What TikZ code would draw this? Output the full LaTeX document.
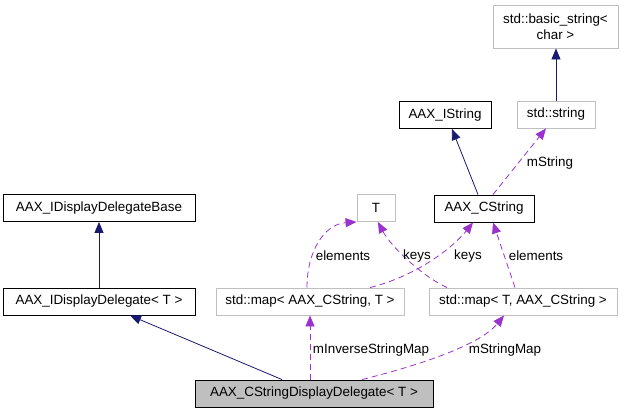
\documentclass[tikz,border=0pt]{standalone}
\usepackage{fontspec}
\setmainfont{Liberation Sans}
\usetikzlibrary{arrows.meta}

\definecolor{navyline}{HTML}{191970}
\definecolor{usecol}{HTML}{9A32CD}
\definecolor{extgray}{HTML}{BFBFBF}

\begin{document}
\begin{tikzpicture}[
  x=1pt,y=-1pt,
  font=\fontsize{13.4}{15.5}\selectfont,
  cls/.style={rectangle,draw=black,line width=0.9pt,align=center,minimum height=27pt,inner sep=2pt},
  ext/.style={cls,draw=extgray},
  focus/.style={cls,fill=extgray},
  inherit/.style={-{Triangle[length=11pt,width=9pt]},draw=navyline,line width=0.8pt},
  usage/.style={-{Triangle[length=11pt,width=9pt]},draw=usecol,line width=0.8pt,dash pattern=on 6pt off 4pt},
  lbl/.style={inner sep=0pt}
]
\useasboundingbox (0,0) rectangle (624,416);

% classes
\node[ext,minimum width=125pt,minimum height=43pt] (basicstr) at (555.5,26.5) {std::basic\_string<\\char >};
\node[ext,minimum width=78pt] (stdstr) at (556,114.5) {std::string};
\node[cls,minimum width=92pt] (istring) at (445,115) {AAX\_IString};
\node[cls,minimum width=100pt] (cstring) at (484,208.5) {AAX\_CString};
\node[ext,minimum width=38pt] (tparam) at (376,208) {T};
\node[cls,minimum width=192pt] (dbase) at (99,208) {AAX\_IDisplayDelegateBase};
\node[cls,minimum width=192pt] (ddel) at (99,301.5) {AAX\_IDisplayDelegate< T >};
\node[ext,minimum width=188pt] (invmap) at (310,301.5) {std::map< AAX\_CString, T >};
\node[ext,minimum width=188pt] (strmap) at (523,301.5) {std::map< T, AAX\_CString >};
\node[focus,minimum width=238pt] (cdd) at (314,393.5) {AAX\_CStringDisplayDelegate< T >};

% inheritance
\draw[inherit] (stdstr) -- (basicstr.south -| stdstr);
\draw[inherit] (cstring.north -| 478,0) -- (istring.south -| 452,0);
\draw[inherit] (ddel) -- (dbase);
\draw[inherit] (cdd.north -| 282,0) -- (ddel.south -| 130,0);

% members
\draw[usage] (cstring.north -| 493,0) -- (stdstr.south -| 546,0);
\node[lbl] (lstr) at (550,163) {mString};
\draw[usage] (invmap.north -| 307,0) .. controls (307,250) and (325,224) .. (tparam.south west);
\node[lbl] (lel1) at (343,256) {elements};
\draw[usage] (strmap.north -| 447,0) .. controls (420,275) and (390,245) .. (tparam.south -| 378,0);
\node[lbl] (lkey1) at (417,256) {keys};
\draw[usage] (invmap.north -| 370,0) .. controls (420,275) and (455,245) .. (cstring.south -| 473,0);
\node[lbl] (lkey2) at (468,256) {keys};
\draw[usage] (strmap.north -| 515,0) -- (cstring.south -| 493,0);
\node[lbl] (lel2) at (536,256) {elements};
\draw[usage] (cdd.north -| 310,0) -- (invmap.south -| 310,0);
\node[lbl] (linv) at (371,350) {mInverseStringMap};
\draw[usage] (cdd.north -| 362,0) .. controls (420,365) and (480,345) .. (strmap.south -| 504,0);
\node[lbl] (lsmap) at (505,350) {mStringMap};
\end{tikzpicture}
\end{document}
